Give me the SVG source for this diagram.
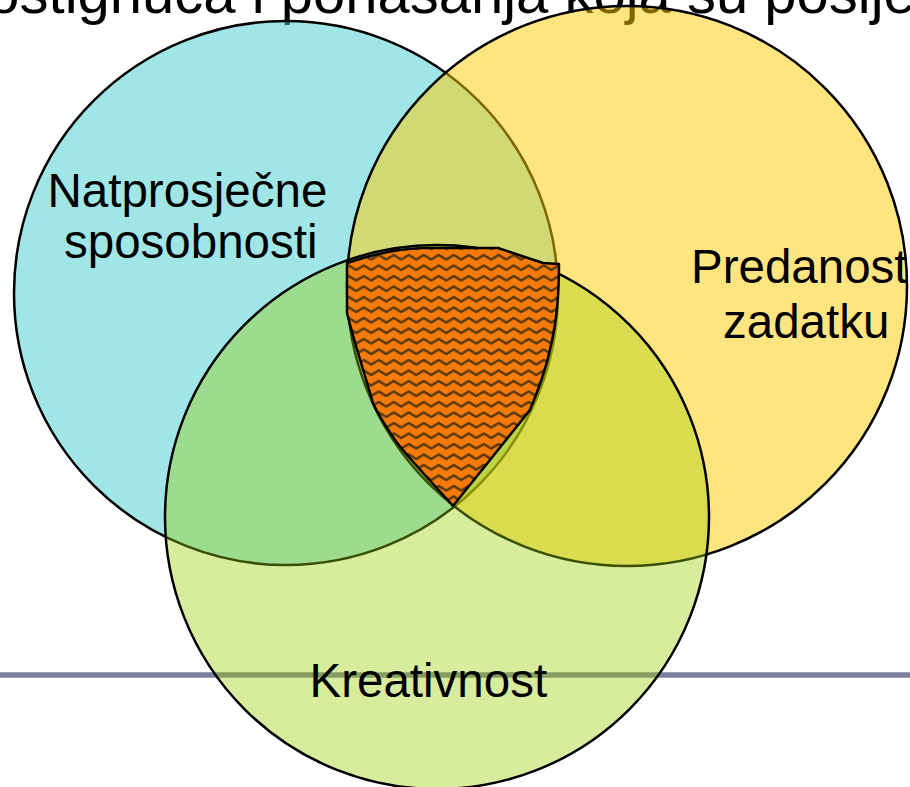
<svg xmlns="http://www.w3.org/2000/svg" width="910" height="787" viewBox="0 0 910 787">
  <style>
    .lbl { font-family: "Liberation Sans", Arial, sans-serif; font-size: 47.5px; fill: #000; }
    .title { font-family: "Liberation Sans", Arial, sans-serif; font-size: 58px; fill: #000; }
    .circ { stroke: #000; stroke-width: 2.5; }
  </style>
  <defs>
    <pattern id="wave" patternUnits="userSpaceOnUse" width="15" height="10.5">
      <rect width="15" height="10.5" fill="#f47a0a"/>
      <path d="M-3.75,7.5 L3.75,3 L11.25,7.5 L18.75,3" fill="none" stroke="#3d2d0d" stroke-width="2.3" stroke-linejoin="round" stroke-opacity="0.85"/>
    </pattern>
  </defs>
  <rect width="910" height="787" fill="#ffffff"/>
  <text class="title" x="-45" y="13">postignuća i ponašanja koja su posije</text>
  <line x1="0" y1="675" x2="910" y2="675" stroke="#7a809b" stroke-width="5.5"/>
  <g id="node-natprosjecne">
    <circle class="circ" cx="286" cy="293" r="272" fill="#41cdcd" fill-opacity="0.5"/>
    <text class="lbl" x="47.5" y="207">Natprosječne</text>
    <text class="lbl" x="64" y="258">sposobnosti</text>
  </g>
  <g id="node-predanost">
    <circle class="circ" cx="627" cy="286" r="280" fill="#ffcc00" fill-opacity="0.5"/>
    <text class="lbl" x="691" y="283">Predanost</text>
    <text class="lbl" x="723" y="338">zadatku</text>
  </g>
  <g id="node-kreativnost">
    <circle class="circ" cx="437" cy="517" r="272" fill="#99cc00" fill-opacity="0.38"/>
    <text class="lbl" x="309.5" y="697">Kreativnost</text>
  </g>
  <g id="connectors"></g>
  <g id="intersection">
    <path d="M347,263 C370,255 395,249 423,248 L498,248 L543,263 L559,264 C559,290 557,320 551,345 C546,370 538,390 530,410 L453,506 C430,480 410,460 395,440 C385,425 378,415 373,403 C365,375 355,345 347,313 Z" fill="url(#wave)" stroke="#000" stroke-width="2.5" stroke-linejoin="round"/>
  </g>
</svg>
